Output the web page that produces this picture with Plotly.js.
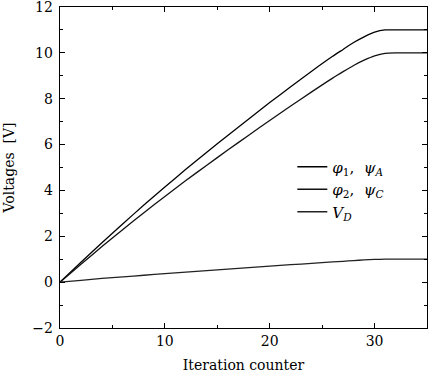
<!DOCTYPE html>
<html>
<head>
<meta charset="utf-8">
<script src="https://cdn.plot.ly/plotly-3.0.1.min.js"></script>
<style>html,body{margin:0;padding:0;background:#fff;}#chart{width:429px;height:376px;}</style>
</head>
<body>
<div id="chart"></div>
<script>
const iterations = [0,2,4,6,8,10,12,14,16,18,20,22,24,26,27,28,29,30,31,32,35];
const phi1 = [0,0.87,1.72,2.55,3.36,4.15,4.92,5.67,6.4,7.12,7.83,8.52,9.2,9.85,10.15,10.45,10.7,10.9,11,11,11];
const phi2 = [0,0.78,1.55,2.3,3.03,3.74,4.43,5.1,5.76,6.41,7.05,7.68,8.3,8.9,9.18,9.45,9.68,9.87,9.98,10,10];
const vD = [0,0.08,0.16,0.23,0.3,0.37,0.44,0.5,0.57,0.63,0.7,0.76,0.82,0.88,0.91,0.94,0.97,0.99,1,1,1];
const seriesNames = ['<i>φ</i><sub>1</sub>,  <i>ψ</i><sub><i>A</i></sub>', '<i>φ</i><sub>2</sub>,  <i>ψ</i><sub><i>C</i></sub>', '<i>V</i><sub><i>D</i></sub>'];
const xTicks = [0,10,20,30];
const yTicks = [-2,0,2,4,6,8,10,12];

const font = {family: '"DejaVu Serif", "Liberation Serif", serif', size: 14, color: '#000'};
const legendFont = {family: '"DejaVu Serif", "Liberation Serif", serif', size: 15, color: '#000'};
const mk = (y, name, color) => ({x: iterations, y: y, name: name, type: 'scatter', mode: 'lines',
  line: {color: color, width: 1.3, shape: 'spline', smoothing: 0.6}});
const data = [mk(phi1, seriesNames[0], '#000'), mk(phi2, seriesNames[1], '#111'), mk(vD, seriesNames[2], '#222')];

const axisCommon = {showgrid: false, zeroline: false, showline: true, linecolor: '#000', linewidth: 1.3,
  mirror: 'ticks', ticks: 'inside', ticklen: 5, tickwidth: 1, tickcolor: '#000', tickfont: font,
  ticklabeloverflow: 'allow'};
const layout = {
  width: 429, height: 376,
  margin: {l: 60, r: 2, t: 7, b: 48},
  paper_bgcolor: '#fff', plot_bgcolor: '#fff',
  font: font,
  showlegend: true,
  legend: {x: 0.633, y: 0.553, xanchor: 'left', yanchor: 'top', bgcolor: 'rgba(0,0,0,0)', borderwidth: 0,
    font: legendFont, itemwidth: 30, tracegroupgap: 0},
  xaxis: Object.assign({}, axisCommon, {range: [0, 35], tickvals: xTicks,
    minor: {tickvals: [5,15,25], ticks: 'inside', ticklen: 3, tickcolor: '#000'},
    title: {text: 'Iteration counter', font: font, standoff: 12}}),
  yaxis: Object.assign({}, axisCommon, {range: [-2, 12], tickvals: yTicks, ticklabelstandoff: 3,
    minor: {tickvals: [-1,1,3,5,7,9,11], ticks: 'inside', ticklen: 3, tickcolor: '#000'},
    title: {text: 'Voltages  [V]', font: font, standoff: 14}})
};
Plotly.newPlot('chart', data, layout, {staticPlot: true, displayModeBar: false});
</script>
</body>
</html>
